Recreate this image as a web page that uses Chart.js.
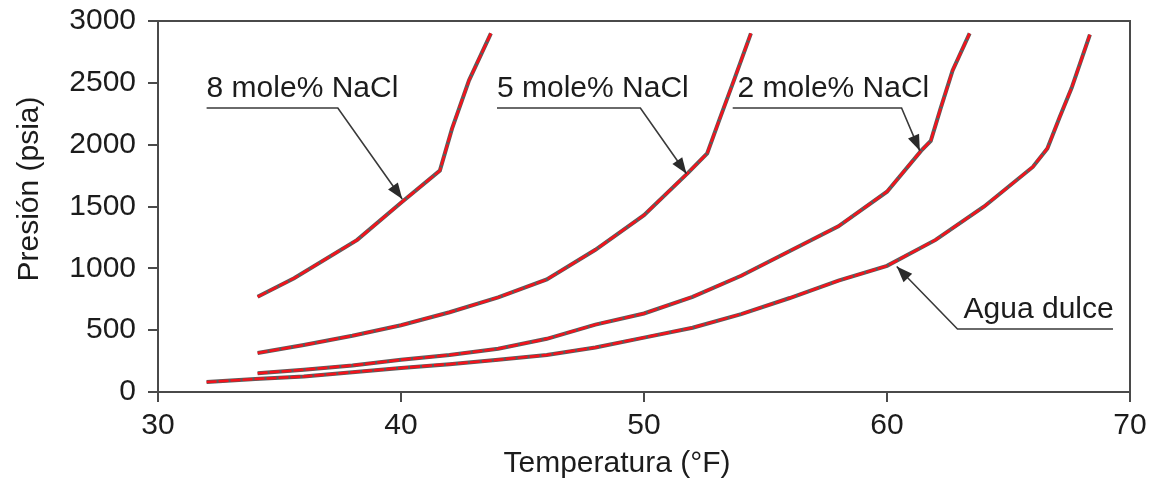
<!DOCTYPE html>
<html>
<head>
<meta charset="utf-8">
<script src="https://cdn.jsdelivr.net/npm/chart.js@4.4.1/dist/chart.umd.min.js"></script>
<style>
  html, body { margin: 0; padding: 0; background: #fff; }
  #wrap { width: 1154px; height: 482px; }
</style>
</head>
<body>
<div id="wrap"><canvas id="hydrateChart" width="1154" height="482"></canvas></div>
<script>
// Hydrate formation curves, temperature (°F) vs pressure (psia)
const xTicks = [30, 40, 50, 60, 70];
const yTicks = [0, 500, 1000, 1500, 2000, 2500, 3000];

const freshT = [32, 34, 36, 38, 40, 42, 44, 46, 48, 50, 52, 54, 56, 58, 60, 62, 64, 66, 66.6, 67.1, 67.6, 68.35];
const freshP = [80, 105, 125, 160, 195, 225, 260, 300, 360, 440, 520, 630, 760, 900, 1020, 1230, 1500, 1820, 1970, 2220, 2460, 2890];

const nacl2T = [34.1, 36, 38, 40, 42, 44, 46, 48, 50, 52, 54, 56, 58, 60, 61.4, 61.8, 62.2, 62.7, 63.4];
const nacl2P = [152, 180, 215, 260, 300, 350, 430, 545, 635, 770, 940, 1140, 1340, 1620, 1950, 2030, 2290, 2600, 2900];

const nacl5T = [34.1, 36, 38, 40, 42, 44, 46, 48, 50, 51.8, 52.6, 53.1, 53.7, 54.4];
const nacl5P = [315, 380, 455, 540, 645, 765, 910, 1150, 1430, 1770, 1930, 2200, 2520, 2900];

const nacl8T = [34.1, 35.6, 38.2, 40, 41.6, 42.1, 42.8, 43.7];
const nacl8P = [770, 920, 1230, 1530, 1790, 2130, 2520, 2900];

const seriesList = [
    [freshT, freshP],
    [nacl2T, nacl2P],
    [nacl5T, nacl5P],
    [nacl8T, nacl8P]
];

const toPoints = (xs, ys) => xs.map((x, i) => ({ x, y: ys[i] }));

// each curve: dark grey casing under a red stroke (higher order = drawn first)
const datasets = [];
seriesList.forEach(([xs, ys]) => {
    datasets.push({
        data: toPoints(xs, ys),
        borderColor: '#5c5c5c',
        borderWidth: 4,
        pointRadius: 0,
        tension: 0,
        order: 2
    });
    datasets.push({
        data: toPoints(xs, ys),
        borderColor: '#f5121b',
        borderWidth: 2.5,
        borderDash: [10, 2],
        pointRadius: 0,
        tension: 0,
        order: 1
    });
});

// callout labels: text, underline start/end (data units), arrow tip
const callouts = [
    { text: '8 mole% NaCl', x0: 32.0, x1: 37.4, y: 2296, tipX: 40.05, tipY: 1560 },
    { text: '5 mole% NaCl', x0: 43.95, x1: 49.85, y: 2296, tipX: 51.75, tipY: 1765 },
    { text: '2 mole% NaCl', x0: 53.65, x1: 60.6, y: 2296, tipX: 61.35, tipY: 1950, textLeft: 53.85 },
    { text: 'Agua dulce', x0: 62.9, x1: 69.3, y: 509, tipX: 60.4, tipY: 1015, textLeft: 63.15 }
];

const FONT = '"Liberation Sans", Arial, sans-serif';
const INK = '#1c1c1c';

const framePlugin = {
    id: 'frame',
    afterDatasetsDraw(chart) {
        const { ctx, chartArea: a, scales } = chart;
        ctx.save();
        // top and right edges of the box
        ctx.strokeStyle = '#4a4a4a';
        ctx.lineWidth = 2;
        ctx.beginPath();
        ctx.moveTo(a.left, a.top);
        ctx.lineTo(a.right, a.top);
        ctx.lineTo(a.right, a.bottom);
        ctx.stroke();

        callouts.forEach(c => {
            const x0 = scales.x.getPixelForValue(c.x0);
            const x1 = scales.x.getPixelForValue(c.x1);
            const y = scales.y.getPixelForValue(c.y);
            const tx = scales.x.getPixelForValue(c.tipX);
            const ty = scales.y.getPixelForValue(c.tipY);

            ctx.fillStyle = INK;
            ctx.font = '30px ' + FONT;
            ctx.textBaseline = 'alphabetic';
            ctx.textAlign = 'left';
            const lx = c.textLeft !== undefined ? scales.x.getPixelForValue(c.textLeft) : x0;
            ctx.fillText(c.text, lx, y - 11);

            // leader line: underline, then slant toward the curve
            const fromX = c.tipX < c.x0 ? x0 : x1;
            ctx.strokeStyle = '#3a3a3a';
            ctx.lineWidth = 1.6;
            ctx.beginPath();
            if (c.tipX < c.x0) {
                ctx.moveTo(x1, y);
                ctx.lineTo(x0, y);
            } else {
                ctx.moveTo(x0, y);
                ctx.lineTo(x1, y);
            }
            ctx.lineTo(tx, ty);
            ctx.stroke();

            // arrow head
            const ang = Math.atan2(ty - y, tx - fromX);
            const len = 16, half = 6;
            ctx.fillStyle = '#2a2a2a';
            ctx.beginPath();
            ctx.moveTo(tx, ty);
            ctx.lineTo(tx - len * Math.cos(ang) + half * Math.sin(ang), ty - len * Math.sin(ang) - half * Math.cos(ang));
            ctx.lineTo(tx - len * Math.cos(ang) - half * Math.sin(ang), ty - len * Math.sin(ang) + half * Math.cos(ang));
            ctx.closePath();
            ctx.fill();
        });

        // axis titles
        ctx.fillStyle = INK;
        ctx.font = '30px ' + FONT;
        ctx.textAlign = 'center';
        ctx.textBaseline = 'middle';
        ctx.fillText('Temperatura (°F)', 617, 464);
        ctx.translate(30, 189);
        ctx.rotate(-Math.PI / 2);
        ctx.fillText('Presión (psia)', 0, 0);
        ctx.restore();
    }
};

const axisGrid = {
    drawOnChartArea: false,
    drawTicks: true,
    tickLength: 10,
    color: '#4a4a4a',
    lineWidth: 2
};

new Chart(document.getElementById('hydrateChart').getContext('2d'), {
    type: 'line',
    data: { datasets },
    options: {
        responsive: false,
        animation: false,
        events: [],
        layout: { padding: { top: 21, right: 24, left: 0, bottom: 0 } },
        plugins: {
            legend: { display: false },
            tooltip: { enabled: false }
        },
        scales: {
            x: {
                type: 'linear',
                min: 30,
                max: 70,
                afterBuildTicks: s => { s.ticks = xTicks.map(v => ({ value: v })); },
                afterFit: s => { s.height = 90; },
                grid: axisGrid,
                border: { display: true, color: '#4a4a4a', width: 2 },
                ticks: {
                    color: INK,
                    padding: 6,
                    font: { family: FONT, size: 30 },
                    callback: v => String(v)
                }
            },
            y: {
                type: 'linear',
                min: 0,
                max: 3000,
                afterBuildTicks: s => { s.ticks = yTicks.map(v => ({ value: v })); },
                afterFit: s => { s.width = 158; s.paddingTop = 0; s.paddingBottom = 0; },
                grid: axisGrid,
                border: { display: true, color: '#4a4a4a', width: 2 },
                ticks: {
                    color: INK,
                    padding: 12,
                    font: { family: FONT, size: 30, lineHeight: 1 },
                    callback: v => String(v)
                }
            }
        }
    },
    plugins: [framePlugin]
});
</script>
</body>
</html>
